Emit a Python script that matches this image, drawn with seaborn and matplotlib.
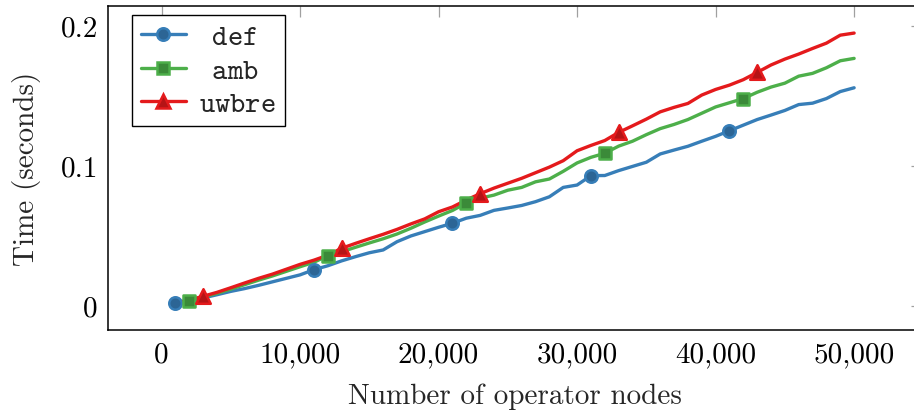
import numpy as np
import pandas as pd
import matplotlib
matplotlib.use("Agg")
import matplotlib.pyplot as plt
from matplotlib.lines import Line2D
from matplotlib.ticker import FuncFormatter, FixedLocator
import seaborn as sns

# ---------------- data ----------------
nodes = list(range(1000, 50001, 1000))

def_time = [0.0017, 0.0035, 0.0055, 0.0078, 0.0102, 0.0122, 0.0145, 0.0170, 0.0195, 0.0220,
            0.0257, 0.0285, 0.0320, 0.0350, 0.0378, 0.0398, 0.0457, 0.0498, 0.0529, 0.0560,
            0.0589, 0.0625, 0.0645, 0.0681, 0.0698, 0.0716, 0.0743, 0.0778, 0.0845, 0.0862,
            0.0929, 0.0930, 0.0965, 0.0995, 0.1025, 0.1084, 0.1112, 0.1139, 0.1175, 0.1210,
            0.1250, 0.1290, 0.1330, 0.1362, 0.1395, 0.1437, 0.1447, 0.1480, 0.1530, 0.1557]

amb_time = [0.0020, 0.0036, 0.0062, 0.0088, 0.0118, 0.0150, 0.0182, 0.0212, 0.0245, 0.0278,
            0.0310, 0.0357, 0.0385, 0.0417, 0.0448, 0.0478, 0.0512, 0.0553, 0.0598, 0.0640,
            0.0680, 0.0734, 0.0768, 0.0790, 0.0825, 0.0845, 0.0885, 0.0905, 0.0960, 0.1020,
            0.1060, 0.1089, 0.1140, 0.1175, 0.1222, 0.1265, 0.1295, 0.1330, 0.1375, 0.1420,
            0.1450, 0.1480, 0.1525, 0.1562, 0.1590, 0.1640, 0.1660, 0.1700, 0.1750, 0.1767]

uwbre_time = [0.0021, 0.0040, 0.0067, 0.0095, 0.0128, 0.0162, 0.0195, 0.0225, 0.0260, 0.0295,
              0.0325, 0.0360, 0.0410, 0.0445, 0.0478, 0.0510, 0.0545, 0.0584, 0.0620, 0.0671,
              0.0705, 0.0755, 0.0800, 0.0840, 0.0875, 0.0910, 0.0950, 0.0990, 0.1036, 0.1107,
              0.1145, 0.1180, 0.1238, 0.1285, 0.1333, 0.1385, 0.1417, 0.1445, 0.1505, 0.1545,
              0.1576, 0.1615, 0.1667, 0.1720, 0.1762, 0.1798, 0.1838, 0.1876, 0.1933, 0.1948]

series_names = ["def", "amb", "uwbre"]
x_ticks = [0, 10000, 20000, 30000, 40000, 50000]
y_ticks = [0, 0.1, 0.2]
x_label = "Number of operator nodes"
y_label = "Time (seconds)"

# ---------------- styling ----------------
colors = {"def": "#377eb8", "amb": "#4daf4a", "uwbre": "#e41a1c"}
faces = {"def": "#2c6595", "amb": "#3b8a39", "uwbre": "#b51416"}
markers = {"def": "o", "amb": "s", "uwbre": "^"}
msize = {"def": 9.0, "amb": 8.8, "uwbre": 10.5}
phase = {"def": 0, "amb": 1, "uwbre": 2}
FS = 21

df = pd.DataFrame({
    "nodes": nodes * 3,
    "time": def_time + amb_time + uwbre_time,
    "series": sum([[s] * len(nodes) for s in series_names], []),
    "idx": list(range(len(nodes))) * 3,
})

sns.set_theme(style="white")
plt.rcParams["font.family"] = ["cmr10", "DejaVu Serif"]
plt.rcParams["mathtext.fontset"] = "cm"
plt.rcParams["axes.unicode_minus"] = False

fig = plt.figure(figsize=(9.14, 4.14), dpi=100)
ax = fig.add_axes([107.5 / 914, 83 / 414, (922 - 107.5) / 914, 324.5 / 414])

sns.lineplot(data=df, x="nodes", y="time", hue="series", hue_order=series_names,
             palette=colors, linewidth=2.4, legend=False, ax=ax, zorder=2)

for s in series_names:
    sub = df[(df.series == s) & (df.idx % 10 == phase[s])]
    sns.scatterplot(data=sub, x="nodes", y="time", marker=markers[s], s=msize[s] ** 2,
                    color=faces[s], edgecolor=colors[s], linewidth=1.8, ax=ax,
                    zorder=3, legend=False)

ax.set_xlim(-3900, 54900)
ax.set_ylim(-0.0174, 0.2145)
ax.xaxis.set_major_locator(FixedLocator(x_ticks))
ax.yaxis.set_major_locator(FixedLocator(y_ticks))
ax.xaxis.set_major_formatter(FuncFormatter(lambda v, p: f"{int(v):,}"))
ax.yaxis.set_major_formatter(FuncFormatter(lambda v, p: "0" if v == 0 else f"{v:.1f}"))

ax.tick_params(axis="both", direction="in", length=8, width=0.9, color="#a0a0a0",
               labelsize=FS, top=True, right=True, labelcolor="black")
ax.tick_params(axis="x", pad=8)
ax.tick_params(axis="y", pad=7)
for sp in ax.spines.values():
    sp.set_color("black")
    sp.set_linewidth(1.1)

ax.set_xlabel(x_label, fontsize=FS, labelpad=11)
ax.set_ylabel(y_label, fontsize=FS, labelpad=14)

handles = [Line2D([0], [0], color=colors[s], lw=2.4, marker=markers[s], markersize=msize[s],
                  markerfacecolor=faces[s], markeredgecolor=colors[s], markeredgewidth=1.8)
           for s in series_names]
# typewriter labels (Computer Modern tt via mathtext), centred in the legend column
labels = [r"$\enspace\mathtt{def}\enspace$", r"$\enspace\mathtt{amb}\enspace$",
          r"$\mathtt{uwbre}$"]
leg = ax.legend(handles, labels, loc="upper left", bbox_to_anchor=(0.030, 0.971),
                borderaxespad=0, frameon=True, fancybox=False, edgecolor="black",
                framealpha=1, borderpad=0.3, labelspacing=0.25, handlelength=1.55,
                handletextpad=0.45, fontsize=FS)
leg.get_frame().set_linewidth(1.0)

fig.savefig("out.png", dpi=100)
